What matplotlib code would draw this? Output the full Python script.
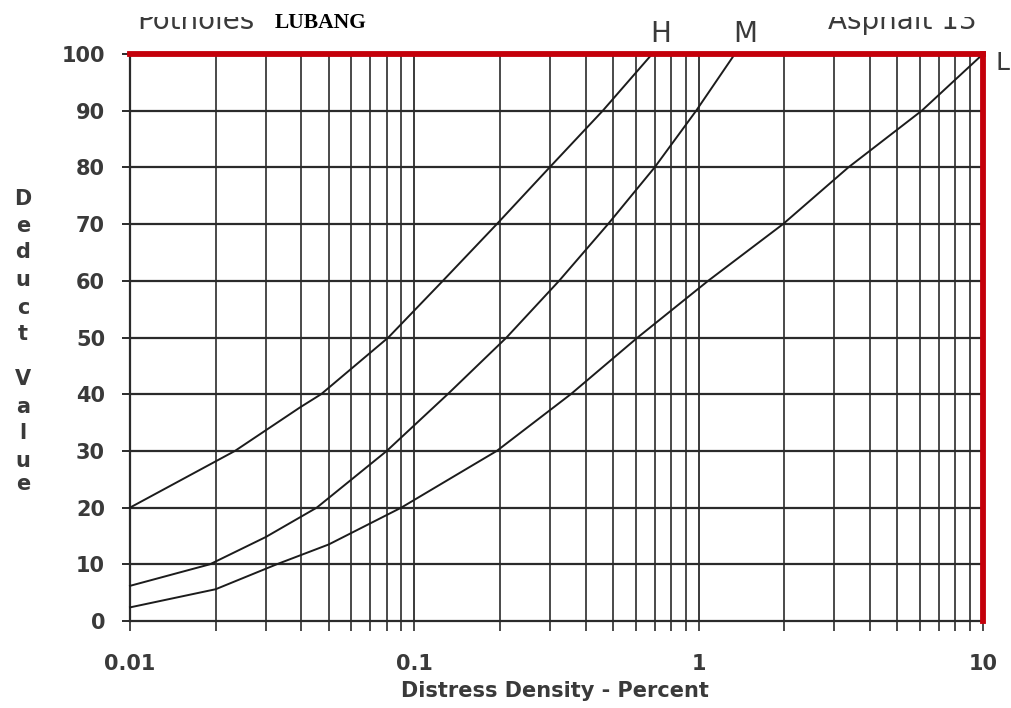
import matplotlib
matplotlib.use("Agg")
import matplotlib.pyplot as plt
from matplotlib.patches import Rectangle
from matplotlib.ticker import FixedLocator, NullFormatter

# ---- data ----
h_x = [0.01, 0.0234, 0.0397, 0.047, 0.081, 0.126, 0.195, 0.299, 0.46, 0.686]
h_y = [20, 30, 37.7, 40, 50, 60, 70, 80, 90, 100]

m_x = [0.01, 0.0191, 0.03, 0.0454, 0.080, 0.131, 0.211, 0.323, 0.48, 0.70, 0.98, 1.34]
m_y = [6.2, 10, 14.8, 20, 30, 40, 50, 60, 70, 80, 90, 100]

l_x = [0.01, 0.02, 0.0328, 0.05, 0.090, 0.157, 0.195, 0.355, 0.61, 1.08, 1.98, 3.36, 6.09, 10]
l_y = [2.4, 5.6, 10, 13.5, 20, 27.2, 30, 40, 50, 60, 70, 80, 90, 100]

x_major = [0.01, 0.1, 1, 10]
x_major_labels = ["0.01", "0.1", "1", "10"]
x_minor = [m * d for d in (0.01, 0.1, 1) for m in range(2, 10)]
y_ticks = list(range(0, 101, 10))

curve_labels = ["H", "M", "L"]

# ---- figure ----
W, H = 1011, 708
fig = plt.figure(figsize=(W / 100, H / 100), dpi=100)
ax = fig.add_axes([130 / W, 1 - 621 / H, (983 - 130) / W, (621 - 54) / H])

ax.set_xscale("log")
ax.set_xlim(0.01, 10)
ax.set_ylim(0, 100)

grid_c = "#2b2b2b"
txt_c = "#3a3a3a"

# grid lines
for xv in x_minor:
    ax.axvline(xv, color=grid_c, lw=1.2, zorder=1)
for xv in x_major[1:-1]:
    ax.axvline(xv, color=grid_c, lw=1.3, zorder=1)
for yv in y_ticks[1:-1]:
    ax.axhline(yv, color=grid_c, lw=1.6, zorder=1)

# curves
for xs, ys in ((h_x, h_y), (m_x, m_y), (l_x, l_y)):
    ax.plot(xs, ys, color="#1c1c1c", lw=1.4, zorder=3, clip_on=False,
            solid_joinstyle="round")

# ticks
ax.xaxis.set_major_locator(FixedLocator(x_major))
ax.xaxis.set_minor_locator(FixedLocator(x_minor))
ax.xaxis.set_minor_formatter(NullFormatter())
ax.set_xticklabels(x_major_labels)
ax.set_yticks(y_ticks)
ax.tick_params(axis="x", which="both", direction="out", length=7, width=1.2,
               color=grid_c, pad=17, labelsize=15, labelcolor=txt_c)
ax.tick_params(axis="y", which="both", direction="out", length=6, width=1.4,
               color=grid_c, pad=12, labelsize=15, labelcolor=txt_c)
for lab in ax.get_xticklabels() + ax.get_yticklabels():
    lab.set_fontweight("bold")

# spines
for s in ("left", "bottom"):
    ax.spines[s].set_color(grid_c)
    ax.spines[s].set_linewidth(1.6)
for s in ("top", "right"):
    ax.spines[s].set_color("#c4000a")
    ax.spines[s].set_linewidth(4.2)
    ax.spines[s].set_zorder(5)

# x label
fig.text(555 / W, 1 - 691 / H, "Distress Density - Percent", ha="center", va="center",
         fontsize=15, fontweight="bold", color=txt_c)

# stacked y label
letters = "DeductValue"
ys_px = [199, 226, 252, 280, 308, 334, 379, 407, 433, 461, 484]
for ch, yp in zip(letters, ys_px):
    fig.text(23 / W, 1 - yp / H, ch, ha="center", va="center",
             fontsize=15, fontweight="bold", color=txt_c)

# header texts
fig.text(137 / W, 1 - 29 / H, "Potholes", ha="left", va="baseline",
         fontsize=20, color=txt_c)
fig.text(828 / W, 1 - 29 / H, "Asphalt 13", ha="left", va="baseline",
         fontsize=20, color=txt_c)
fig.text(275 / W, 1 - 28 / H, "LUBANG", ha="left", va="baseline",
         fontsize=15.5, fontweight="bold", family="Liberation Serif", color="black")

# curve labels
fig.text(661 / W, 1 - 42 / H, curve_labels[0], ha="center", va="baseline",
         fontsize=20, color=txt_c)
fig.text(745 / W, 1 - 42 / H, curve_labels[1], ha="center", va="baseline",
         fontsize=20, color=txt_c)
fig.text(995 / W, 1 - 70 / H, curve_labels[2], ha="left", va="baseline",
         fontsize=18, color=txt_c)

# white masks that crop the top of the cut-off header texts
for x0, x1 in ((125, 270), (815, 1000)):
    fig.patches.append(Rectangle((x0 / W, 1 - 17 / H), (x1 - x0) / W, 17 / H,
                                 transform=fig.transFigure, facecolor="white",
                                 edgecolor="none", zorder=10))

fig.savefig("out.png", dpi=100, facecolor="white")
